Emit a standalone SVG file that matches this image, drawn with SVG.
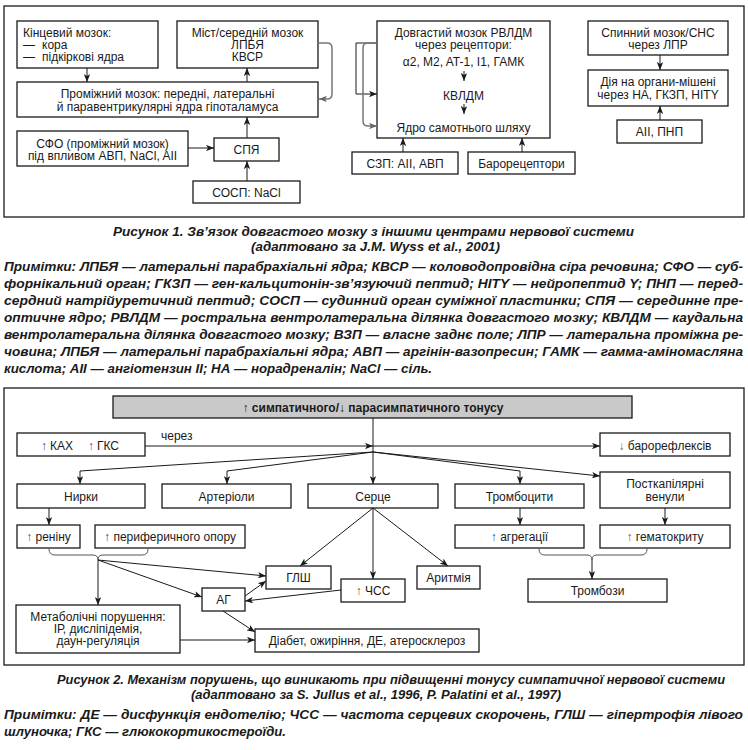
<svg xmlns="http://www.w3.org/2000/svg" width="748" height="750" viewBox="0 0 748 750">
<defs>
<marker id="ah" viewBox="0 0 10 8" refX="10" refY="4" markerWidth="8" markerHeight="6.4" markerUnits="userSpaceOnUse" orient="auto"><path d="M0,0 L10,4 L0,8 L2.5,4 Z" fill="#1a1a1a"/></marker>
<marker id="ahg" viewBox="0 0 10 8" refX="10" refY="4" markerWidth="8" markerHeight="6.4" markerUnits="userSpaceOnUse" orient="auto"><path d="M0,0 L10,4 L0,8 L2.5,4 Z" fill="#666"/></marker>
</defs>
<style>
.frame{fill:none;stroke:#1a1a1a;stroke-width:1.3}
.box{fill:#fff;stroke:#1a1a1a;stroke-width:1.3}
.hdr{fill:#c9c9c9;stroke:#1a1a1a;stroke-width:1.3}
.t{font-family:"Liberation Sans",Arial,sans-serif;font-size:12px;fill:#1a1a1a}
.c{text-anchor:middle}
.b{font-weight:bold}
.cap{font-family:"Liberation Sans Narrow","Liberation Sans",sans-serif;font-size:13.5px;font-style:italic;font-weight:bold;fill:#1a1a1a}
.ln{fill:none;stroke:#1a1a1a;stroke-width:1;marker-end:url(#ah)}
.gr{fill:none;stroke:#777;stroke-width:1.5;marker-end:url(#ahg)}
.br{fill:none;stroke:#555;stroke-width:1}
.ub{fill:#2c3e8c}
.ur{fill:#9a2f2f}
</style>
<rect width="748" height="750" fill="#fff"/>

<!-- Figure 1 -->
<rect class="frame" x="4" y="6" width="740" height="211"/>
<g id="kintsevyi">
<rect class="box" x="17" y="21" width="141" height="47"/>
<text class="t" x="23" y="37">Кінцевий мозок:</text>
<text class="t" y="49"><tspan x="23">—</tspan><tspan x="42">кора</tspan></text>
<text class="t" y="61"><tspan x="23">—</tspan><tspan x="42">підкіркові ядра</tspan></text>
</g>
<g id="mist">
<rect class="box" x="177" y="21" width="141" height="47"/>
<text class="t c" x="247.5" y="37">Міст/середній мозок</text>
<text class="t c" x="247.5" y="49">ЛПБЯ</text>
<text class="t c" x="247.5" y="61">КВСР</text>
</g>
<g id="promizhnyi">
<rect class="box" x="17" y="82" width="301" height="35"/>
<text class="t c" x="167.5" y="98">Проміжний мозок: передні, латеральні</text>
<text class="t c" x="167.5" y="111">й паравентрикулярні ядра гіпоталамуса</text>
</g>
<g id="sfo">
<rect class="box" x="17" y="131" width="171" height="35"/>
<text class="t c" x="102.5" y="148">СФО (проміжний мозок)</text>
<text class="t c" x="102.5" y="160">під впливом АВП, NaCl, AII</text>
</g>
<g id="spya">
<rect class="box" x="214" y="138" width="65" height="23"/>
<text class="t c" x="246.5" y="154">СПЯ</text>
</g>
<g id="sosp">
<rect class="box" x="193" y="181" width="107" height="22"/>
<text class="t c" x="246.5" y="196.5">СОСП: NaCl</text>
</g>
<g id="dovgastyi">
<rect class="box" x="377" y="21" width="173" height="117"/>
<text class="t c" x="463.5" y="37">Довгастий мозок РВЛДМ</text>
<text class="t c" x="463.5" y="49">через рецептори:</text>
<text class="t c" x="463.5" y="66">α2, M2, AT-1, I1, ГАМК</text>
<text class="t c" x="463.5" y="100">КВЛДМ</text>
<text class="t c" x="463.5" y="132">Ядро самотнього шляху</text>
</g>
<g id="szp">
<rect class="box" x="352" y="152" width="106" height="22"/>
<text class="t c" x="405" y="167.5">СЗП: AII, АВП</text>
</g>
<g id="barore">
<rect class="box" x="468" y="152" width="107" height="22"/>
<text class="t c" x="521.5" y="167.5">Барорецептори</text>
</g>
<g id="spynnyi">
<rect class="box" x="588" y="21" width="140" height="34"/>
<text class="t c" x="658" y="37">Спинний мозок/СНС</text>
<text class="t c" x="658" y="49">через ЛПР</text>
</g>
<g id="diya">
<rect class="box" x="588" y="70" width="140" height="36"/>
<text class="t c" x="658" y="86">Дія на органи-мішені</text>
<text class="t c" x="658" y="99">через НА, ГКЗП, НІТY</text>
</g>
<g id="aii-pnp">
<rect class="box" x="617" y="120" width="85" height="23"/>
<text class="t c" x="659.5" y="136">AII, ПНП</text>
</g>
<g id="connectors1">
<path class="ln" d="M87,68 V82"/>
<path class="ln" d="M247,82 V68"/>
<path class="gr" d="M318,43 H327 Q332,43 332,48 V94 Q332,99 327,99 H319"/>
<path class="ln" d="M188,148 H214"/>
<path class="ln" d="M247,181 V161"/>
<path class="ln" d="M247,138 V117"/>
<path class="ln" d="M377,43 H356 V94 H377"/>
<path class="gr" d="M377,43 H368 Q363,43 363,48 V121 Q363,126 368,126 H377"/>
<path class="ln" d="M464,71 V81"/>
<path class="ln" d="M464,104 V114"/>
<path class="ln" d="M403,152 V138"/>
<path class="ln" d="M522,152 V138"/>
<path class="ln" d="M660,55 V70"/>
<path class="ln" d="M660,120 V106"/>
</g>

<g id="caption1">
<text class="cap" x="113" y="236" textLength="521" lengthAdjust="spacingAndGlyphs">Рисунок 1.  Зв’язок довгастого мозку з іншими центрами нервової системи</text>
<text class="cap" x="251" y="251" textLength="249" lengthAdjust="spacingAndGlyphs">(адаптовано за J.M. Wyss et al., 2001)</text>
<text class="cap" x="4" y="271" textLength="739" lengthAdjust="spacingAndGlyphs">Примітки: ЛПБЯ — латеральні парабрахіальні ядра; КВСР — коловодопровідна сіра речовина; СФО — суб-</text>
<text class="cap" x="4" y="288" textLength="739" lengthAdjust="spacingAndGlyphs">форнікальний орган; ГКЗП — ген-кальцитонін-зв’язуючий пептид; НІТY — нейропептид Y; ПНП — перед-</text>
<text class="cap" x="4" y="305" textLength="739" lengthAdjust="spacingAndGlyphs">сердний натрійуретичний пептид; СОСП — судинний орган суміжної пластинки; СПЯ — серединне пре-</text>
<text class="cap" x="4" y="322" textLength="739" lengthAdjust="spacingAndGlyphs">оптичне ядро; РВЛДМ — ростральна вентролатеральна ділянка довгастого мозку; КВЛДМ — каудальна</text>
<text class="cap" x="4" y="339" textLength="739" lengthAdjust="spacingAndGlyphs">вентролатеральна ділянка довгастого мозку; ВЗП — власне заднє поле; ЛПР — латеральна проміжна ре-</text>
<text class="cap" x="4" y="356" textLength="739" lengthAdjust="spacingAndGlyphs">човина; ЛПБЯ — латеральні парабрахіальні ядра; АВП — аргінін-вазопресин; ГАМК — гамма-аміномасляна</text>
<text class="cap" x="4" y="373" textLength="428" lengthAdjust="spacingAndGlyphs">кислота; AII — ангіотензин II; НА — норадреналін; NaCl — сіль.</text>
</g>

<!-- Figure 2 -->
<rect class="frame" x="4" y="388" width="740" height="277"/>
<g id="header">
<rect class="hdr" x="113" y="396" width="519" height="22"/>
<text class="t c b" x="373" y="411.5">↑ симпатичного/↓ парасимпатичного тонусу</text>
</g>
<text class="t" x="161" y="440">через</text>
<g id="kah-gks">
<rect class="box" x="17" y="433" width="128" height="23"/>
<text class="t" y="449.5"><tspan class="ub" x="41">↑</tspan><tspan x="50">КАХ</tspan><tspan class="ur" x="88">↑</tspan><tspan x="97">ГКС</tspan></text>
</g>
<g id="baroreflex">
<rect class="box" x="600" y="433" width="130" height="23"/>
<text class="t c" x="665" y="449.5"><tspan fill="#666">↓</tspan> барорефлексів</text>
</g>
<g id="nyrky">
<rect class="box" x="17" y="484" width="128" height="24"/>
<text class="t c" x="81" y="500.5">Нирки</text>
</g>
<g id="arterioly">
<rect class="box" x="162" y="484" width="129" height="24"/>
<text class="t c" x="226.5" y="500.5">Артеріоли</text>
</g>
<g id="sertse">
<rect class="box" x="308" y="484" width="130" height="24"/>
<text class="t c" x="373" y="500.5">Серце</text>
</g>
<g id="trombotsyty">
<rect class="box" x="455" y="484" width="129" height="24"/>
<text class="t c" x="519.5" y="500.5">Тромбоцити</text>
</g>
<g id="venuly">
<rect class="box" x="600" y="472" width="130" height="36"/>
<text class="t c" x="665" y="488">Посткапілярні</text>
<text class="t c" x="665" y="501">венули</text>
</g>
<g id="reninu">
<rect class="box" x="17" y="525" width="63" height="23"/>
<text class="t c" x="48.5" y="541"><tspan class="ur">↑</tspan> реніну</text>
</g>
<g id="oporu">
<rect class="box" x="95" y="525" width="150" height="23"/>
<text class="t c" x="170" y="541"><tspan class="ub">↑</tspan> периферичного опору</text>
</g>
<g id="agregatsii">
<rect class="box" x="455" y="525" width="129" height="23"/>
<text class="t c" x="519.5" y="541"><tspan class="ub">↑</tspan> агрегації</text>
</g>
<g id="gematokrytu">
<rect class="box" x="600" y="525" width="130" height="23"/>
<text class="t c" x="665" y="541"><tspan class="ur">↑</tspan> гематокриту</text>
</g>
<g id="glsh">
<rect class="box" x="266" y="566" width="65" height="23"/>
<text class="t c" x="298.5" y="582">ГЛШ</text>
</g>
<g id="chss">
<rect class="box" x="341" y="579" width="64" height="23"/>
<text class="t c" x="373" y="595"><tspan class="ur">↑</tspan> ЧСС</text>
</g>
<g id="arytmiya">
<rect class="box" x="417" y="566" width="63" height="23"/>
<text class="t c" x="448.5" y="582">Аритмія</text>
</g>
<g id="ag">
<rect class="box" x="202" y="588" width="43" height="23"/>
<text class="t c" x="223.5" y="604">АГ</text>
</g>
<g id="trombozy">
<rect class="box" x="528" y="579" width="139" height="23"/>
<text class="t c" x="597.5" y="595">Тромбози</text>
</g>
<g id="metabolichni">
<rect class="box" x="16" y="605" width="164" height="48"/>
<text class="t c" x="98" y="620.5">Метаболічні порушення:</text>
<text class="t c" x="98" y="632.5">ІР, дисліпідемія,</text>
<text class="t c" x="98" y="644.5">даун-регуляція</text>
</g>
<g id="diabet">
<rect class="box" x="255" y="629" width="224" height="23"/>
<text class="t c" x="367" y="645">Діабет, ожиріння, ДЕ, атеросклероз</text>
</g>
<g id="connectors2">
<path class="ln" d="M373,418 V484"/>
<path class="ln" d="M145,446 H373"/>
<path class="ln" d="M373,446 H600"/>
<path class="ln" d="M373,452 L80,471 V484"/>
<path class="ln" d="M373,452 L227,471 V484"/>
<path class="ln" d="M373,452 L520,471 V484"/>
<path class="ln" d="M373,452 L600,476"/>
<path class="ln" d="M49,508 V525"/>
<path class="ln" d="M520,508 V525"/>
<path class="ln" d="M665,508 V525"/>
<path class="br" d="M49,549 Q49,555 55,555 H93 Q98,555 98,560 Q98,555 103,555 H142 Q148,555 148,549"/>
<path class="br" d="M539,549 Q539,555 545,555 H587 Q592,555 592,560 Q592,555 597,555 H641 Q647,555 647,549"/>
<path class="ln" d="M98,560 V605"/>
<path class="ln" d="M98,560 L266,576"/>
<path class="ln" d="M98,560 L202,597"/>
<path class="ln" d="M373,508 L300,566"/>
<path class="ln" d="M373,508 V579"/>
<path class="ln" d="M373,508 L448,566"/>
<path class="ln" d="M341,590 L245,601"/>
<path class="ln" d="M245,596 L266,581"/>
<path class="ln" d="M223,611 L255,632"/>
<path class="ln" d="M180,640 H255"/>
<path class="ln" d="M592,560 V579"/>
</g>

<g id="caption2">
<text class="cap" x="57" y="684" textLength="668" lengthAdjust="spacingAndGlyphs">Рисунок 2.  Механізм порушень, що виникають при підвищенні тонусу симпатичної нервової системи</text>
<text class="cap" x="191" y="699" textLength="370" lengthAdjust="spacingAndGlyphs">(адаптовано за S. Jullus et al., 1996, P. Palatini et al., 1997)</text>
<text class="cap" x="4" y="719" textLength="739" lengthAdjust="spacingAndGlyphs">Примітки: ДЕ — дисфункція ендотелію; ЧСС — частота серцевих скорочень, ГЛШ — гіпертрофія лівого</text>
<text class="cap" x="4" y="736" textLength="282" lengthAdjust="spacingAndGlyphs">шлуночка; ГКС — глюкокортикостероїди.</text>
</g>
</svg>
